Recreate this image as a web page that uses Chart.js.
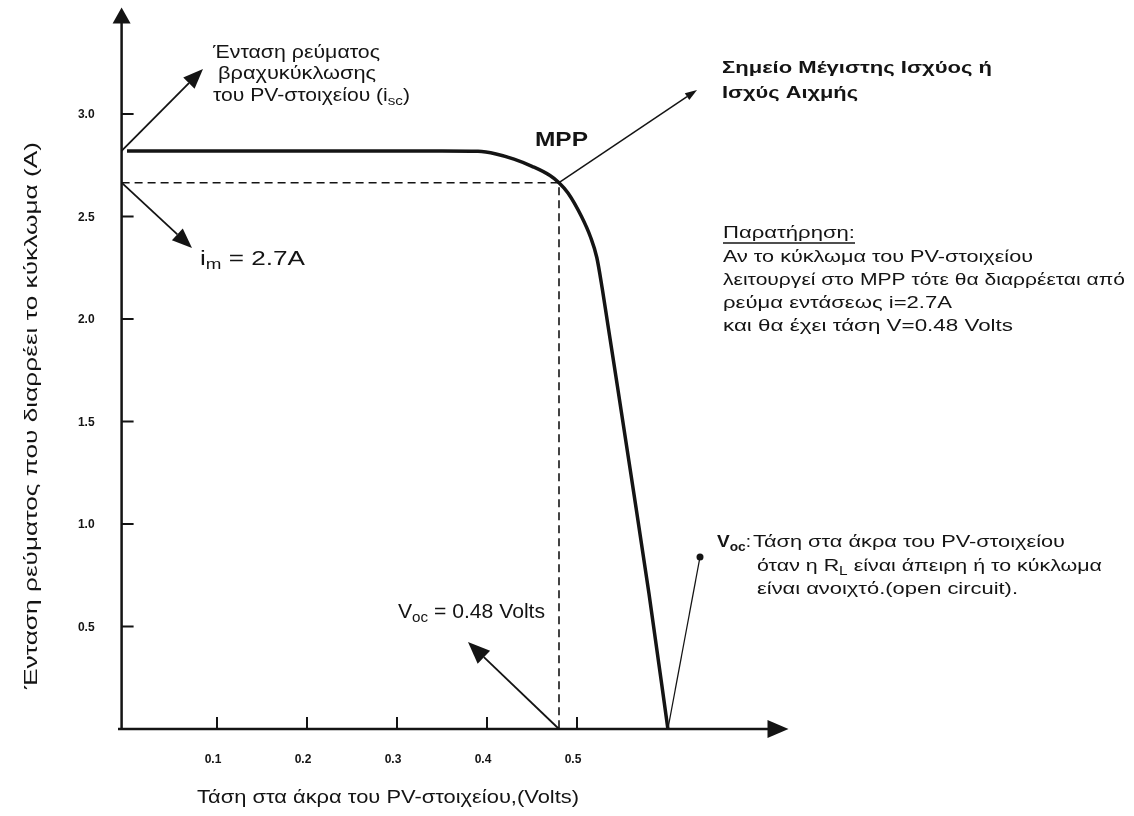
<!DOCTYPE html>
<html>
<head>
<meta charset="utf-8">
<script src="https://cdn.jsdelivr.net/npm/chart.js@4.4.1/dist/chart.umd.min.js"></script>
<style>
  html, body { margin: 0; padding: 0; background: #ffffff; }
  #wrap { width: 1134px; height: 816px; }
</style>
</head>
<body>
<div id="wrap"><canvas id="c" width="1134" height="816"></canvas></div>
<script>
// ---- data ----
const voltage = [0, 0.05, 0.10, 0.15, 0.20, 0.25, 0.30, 0.35, 0.39, 0.41, 0.43, 0.45, 0.47, 0.48, 0.49, 0.505, 0.515, 0.522, 0.528, 0.534, 0.545, 0.56, 0.58, 0.601];
const current = [2.82, 2.82, 2.82, 2.82, 2.82, 2.82, 2.82, 2.82, 2.818, 2.805, 2.78, 2.745, 2.70, 2.665, 2.615, 2.50, 2.40, 2.30, 2.15, 1.98, 1.67, 1.24, 0.66, 0];
const mppVoltage = 0.48;
const mppCurrent = 2.665;
const iscCurrent = 2.82;
const vocVoltage = 0.601;
const xTicks = [0.1, 0.2, 0.3, 0.4, 0.5];
const yTicks = [0.5, 1.0, 1.5, 2.0, 2.5, 3.0];
const xTickLabels = ['0.1', '0.2', '0.3', '0.4', '0.5'];
const yTickLabels = ['0.5', '1.0', '1.5', '2.0', '2.5', '3.0'];
const xAxisEnd = 0.735;
const yAxisEnd = 3.52;
const yAxisAt = -0.006;

const FONT = '"Liberation Sans", Arial, sans-serif';
const INK = '#141414';

function rich(ctx, parts, x, y, w, size, bold) {
  let total = 0;
  const fonts = parts.map(p => {
    const s = p[1] ? size * 0.72 : size;
    const f = (bold || p[2] ? 'bold ' : '') + s + 'px ' + FONT;
    ctx.font = f;
    const wd = ctx.measureText(p[0]).width;
    total += wd;
    return { f, wd };
  });
  const sx = w ? w / total : 1;
  ctx.save();
  ctx.translate(x, y);
  ctx.scale(sx, 1);
  ctx.textBaseline = 'middle';
  ctx.textAlign = 'left';
  let cx = 0;
  parts.forEach((p, i) => {
    ctx.font = fonts[i].f;
    ctx.fillText(p[0], cx, p[1] ? size * 0.32 : 0);
    cx += fonts[i].wd;
  });
  ctx.restore();
}

function arrow(ctx, x1, y1, x2, y2, len, half, lw) {
  const a = Math.atan2(y2 - y1, x2 - x1);
  const bx = x2 - len * Math.cos(a), by = y2 - len * Math.sin(a);
  ctx.beginPath();
  ctx.lineWidth = lw;
  ctx.moveTo(x1, y1);
  ctx.lineTo(bx, by);
  ctx.stroke();
  ctx.beginPath();
  ctx.moveTo(x2, y2);
  ctx.lineTo(bx + half * Math.sin(a), by - half * Math.cos(a));
  ctx.lineTo(bx - half * Math.sin(a), by + half * Math.cos(a));
  ctx.closePath();
  ctx.fill();
}

const decor = {
  id: 'decor',
  beforeDraw(chart) {
    const ctx = chart.ctx;
    ctx.save();
    ctx.fillStyle = '#ffffff';
    ctx.fillRect(0, 0, chart.width, chart.height);
    ctx.restore();
  },
  afterDatasetsDraw(chart) {
    const ctx = chart.ctx;
    const xs = chart.scales.x, ys = chart.scales.y;
    const X = v => xs.getPixelForValue(v);
    const Y = v => ys.getPixelForValue(v);
    ctx.save();
    ctx.strokeStyle = INK;
    ctx.fillStyle = INK;
    ctx.lineCap = 'butt';

    const ax = X(yAxisAt), ay = Y(0);
    // axes
    ctx.lineWidth = 2.5;
    ctx.beginPath();
    ctx.moveTo(ax, ay);
    ctx.lineTo(ax, Y(yAxisEnd) + 14);
    ctx.moveTo(X(-0.01), ay);
    ctx.lineTo(X(xAxisEnd) - 18, ay);
    ctx.stroke();
    // arrow heads of axes
    ctx.beginPath();
    ctx.moveTo(ax, Y(yAxisEnd));
    ctx.lineTo(ax - 9, Y(yAxisEnd) + 16);
    ctx.lineTo(ax + 9, Y(yAxisEnd) + 16);
    ctx.closePath();
    ctx.fill();
    ctx.beginPath();
    ctx.moveTo(X(xAxisEnd), ay);
    ctx.lineTo(X(xAxisEnd) - 21, ay - 9);
    ctx.lineTo(X(xAxisEnd) - 21, ay + 9);
    ctx.closePath();
    ctx.fill();

    // ticks (inside)
    ctx.lineWidth = 2;
    ctx.beginPath();
    yTicks.forEach(v => { ctx.moveTo(ax, Y(v)); ctx.lineTo(ax + 12, Y(v)); });
    xTicks.forEach(v => { ctx.moveTo(X(v), ay); ctx.lineTo(X(v), ay - 12); });
    ctx.stroke();

    // tick labels
    ctx.font = 'bold 12px ' + FONT;
    ctx.textBaseline = 'middle';
    ctx.textAlign = 'right';
    yTicks.forEach((v, i) => ctx.fillText(yTickLabels[i], ax - 27, Y(v) + 1));
    ctx.textAlign = 'center';
    xTicks.forEach((v, i) => ctx.fillText(xTickLabels[i], X(v) - 4, ay + 31));

    // axis titles
    rich(ctx, [['Τάση στα άκρα του PV-στοιχείου,(Volts)']], 197, 798, 382, 19);
    ctx.save();
    ctx.translate(32, 416);
    ctx.rotate(-Math.PI / 2);
    rich(ctx, [['Ένταση ρεύματος που διαρρέει το κύκλωμα (A)']], -273, 0, 547, 19);
    ctx.restore();

    // short-circuit current annotation
    arrow(ctx, ax, Y(iscCurrent), 203, 69, 20, 8, 1.8);
    rich(ctx, [['Ένταση ρεύματος']], 213, 53, 167, 18);
    rich(ctx, [['βραχυκύκλωσης']], 218, 74, 158, 18);
    rich(ctx, [['του PV-στοιχείου (i'], ['sc', true], [')']], 213, 96, 197, 18);

    // i_m annotation
    arrow(ctx, ax, Y(mppCurrent), 192, 248, 20, 8, 1.8);
    rich(ctx, [['i'], ['m', true], [' = 2.7A']], 200, 259, 105, 20);

    // MPP
    rich(ctx, [['MPP']], 535, 140, 53, 21, true);
    arrow(ctx, X(mppVoltage), Y(mppCurrent), 697, 90, 12, 4, 1.5);
    rich(ctx, [['Σημείο Μέγιστης Ισχύος ή']], 722, 68, 270, 17, true);
    rich(ctx, [['Ισχύς Αιχμής']], 722, 93, 136, 17, true);

    // note
    rich(ctx, [['Παρατήρηση:']], 723, 233, 132, 17);
    ctx.lineWidth = 1.3;
    ctx.beginPath(); ctx.moveTo(723, 243); ctx.lineTo(855, 243); ctx.stroke();
    rich(ctx, [['Αν το κύκλωμα του PV-στοιχείου']], 723, 257, 310, 17);
    rich(ctx, [['λειτουργεί στο MPP τότε θα διαρρέεται από']], 723, 280, 402, 17);
    rich(ctx, [['ρεύμα εντάσεως i=2.7A']], 723, 303, 229, 17);
    rich(ctx, [['και θα έχει τάση V=0.48 Volts']], 723, 326, 290, 17);

    // Voc annotation
    ctx.lineWidth = 1.3;
    ctx.beginPath();
    ctx.moveTo(X(vocVoltage), ay);
    ctx.lineTo(700, 557);
    ctx.stroke();
    ctx.beginPath(); ctx.arc(700, 557, 3.5, 0, Math.PI * 2); ctx.fill();
    rich(ctx, [['V', false, true], ['oc', true, true], [':']], 717, 542, 34, 17);
    rich(ctx, [['Τάση στα άκρα του PV-στοιχείου']], 753, 542, 312, 17);
    rich(ctx, [['όταν η R'], ['L', true], [' είναι άπειρη ή το κύκλωμα']], 757, 566, 345, 17);
    rich(ctx, [['είναι ανοιχτό.(open circuit).']], 757, 589, 261, 17);

    // V label at MPP voltage
    arrow(ctx, X(mppVoltage), ay, 468, 642, 22, 9, 1.8);
    rich(ctx, [['V'], ['oc', true], [' = 0.48 Volts']], 398, 612, 147, 20);

    ctx.restore();
  }
};

new Chart(document.getElementById('c'), {
  type: 'scatter',
  data: {
    datasets: [
      {
        label: 'I-V',
        data: voltage.map((v, i) => ({ x: v, y: current[i] })),
        showLine: true,
        borderColor: INK,
        borderWidth: 3.5,
        pointRadius: 0,
        cubicInterpolationMode: 'monotone',
        fill: false
      },
      {
        label: 'MPP guides',
        data: [{ x: yAxisAt, y: mppCurrent }, { x: mppVoltage, y: mppCurrent }, { x: mppVoltage, y: 0 }],
        showLine: true,
        borderColor: INK,
        borderWidth: 1.6,
        borderDash: [8, 5],
        pointRadius: 0,
        tension: 0,
        fill: false
      }
    ]
  },
  options: {
    responsive: false,
    animation: false,
    layout: { padding: { left: 118, right: 116, top: 7, bottom: 87 } },
    plugins: { legend: { display: false }, tooltip: { enabled: false } },
    scales: {
      x: { type: 'linear', min: -0.01, max: 0.99, display: false },
      y: { type: 'linear', min: 0, max: 3.522, display: false }
    }
  },
  plugins: [decor]
});
</script>
</body>
</html>
